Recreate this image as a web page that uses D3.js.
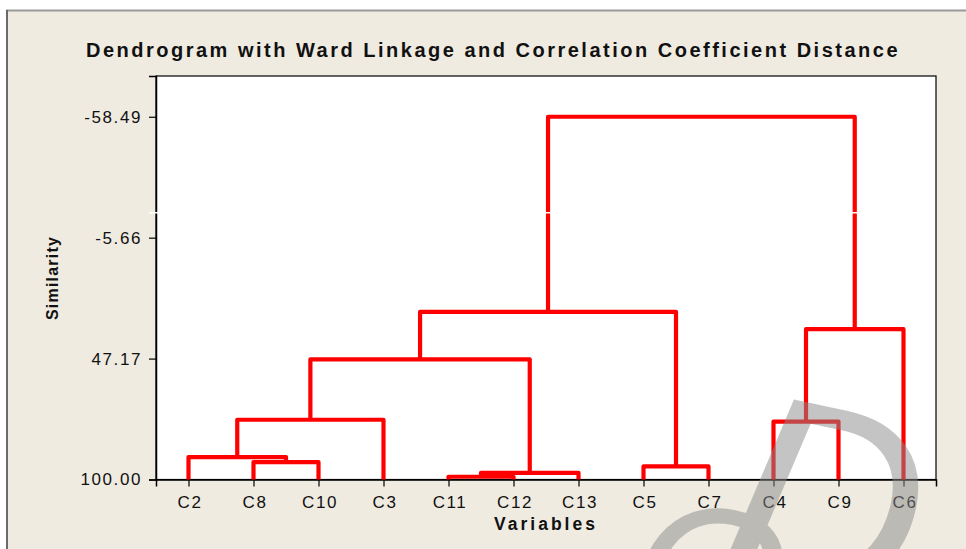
<!DOCTYPE html>
<html>
<head>
<meta charset="utf-8">
<script src="https://cdn.jsdelivr.net/npm/d3@7"></script>
<style>
  body { margin: 0; background: #fff; }
  text { font-family: "Liberation Sans", Arial, sans-serif; fill: #111; }
</style>
</head>
<body>
<svg id="chart" width="966" height="549"></svg>
<script>
// leaf order along the x axis
const leaves = ["C2", "C8", "C10", "C3", "C11", "C12", "C13", "C5", "C7", "C4", "C9", "C6"];
// merge steps: numbers >= 100 refer to earlier merges (100 + index)
const mergeLeft  = ["C8", "C2",  100+1, "C11", 100+3, 100+2, "C5", 100+5, "C4", 100+8, 100+7];
const mergeRight = ["C10", 100+0, "C3", "C12", "C13", 100+4, "C7", 100+6, "C9", "C6",  100+9];
const similarity = [92.4, 90.2, 73.9, 98.8, 97.1, 47.5, 94.3, 26.8, 74.7, 34.3, -58.49];
const yTicks = [-58.49, -5.66, 47.17, 100.00];

const svg = d3.select("#chart");
const W = 966, H = 549;
const plot = { left: 156, right: 936, top: 76, bottom: 479.5 };

// panel
svg.append("rect").attr("x", 7).attr("y", 10).attr("width", W).attr("height", H)
  .attr("fill", "#efebe1");
svg.append("line").attr("x1", 6).attr("x2", W).attr("y1", 10.5).attr("y2", 10.5)
  .attr("stroke", "#9a9a9a").attr("stroke-width", 2);
svg.append("line").attr("x1", 7).attr("x2", 7).attr("y1", 10).attr("y2", H)
  .attr("stroke", "#6a6a6a").attr("stroke-width", 2);

svg.append("rect").attr("x", plot.left).attr("y", plot.top)
  .attr("width", plot.right - plot.left).attr("height", plot.bottom - plot.top)
  .attr("fill", "#fff").attr("stroke", "#000").attr("stroke-width", 1.2);

const x = d3.scalePoint().domain(leaves).range([plot.left, plot.right]).padding(0.5);
const y = d3.scaleLinear().domain([100, -76.3]).range([plot.bottom, plot.top]);

// axes
const xAxis = svg.append("g").attr("transform", `translate(0,${plot.bottom})`)
  .call(d3.axisBottom(x).tickSize(7).tickPadding(6));
const yAxis = svg.append("g").attr("transform", `translate(${plot.left},0)`)
  .call(d3.axisLeft(y).tickValues(yTicks).tickFormat(d => d.toFixed(2)).tickSize(7).tickPadding(7));
[xAxis, yAxis].forEach(g => {
  g.select(".domain").attr("stroke", "#000").attr("stroke-width", 1.5);
  g.selectAll(".tick line").attr("stroke", "#000").attr("stroke-width", 1.2);
  g.selectAll(".tick text").attr("font-size", 17).attr("letter-spacing", 1.6)
    .attr("font-family", "Liberation Sans, Arial, sans-serif").attr("fill", "#111");
});
xAxis.selectAll(".tick text").attr("dy", "0.9em").attr("dx", 1);

// dendrogram links
const nodes = [];
function pos(ref) {
  if (typeof ref === "number") return nodes[ref - 100];
  return { x: x(ref), y: 100 };
}
const links = svg.append("g");
mergeLeft.forEach((l, i) => {
  const a = pos(l), b = pos(mergeRight[i]), s = similarity[i];
  nodes.push({ x: (a.x + b.x) / 2, y: s });
  links.append("path")
    .attr("d", `M${a.x},${y(a.y)}V${y(s)}H${b.x}V${y(b.y)}`)
    .attr("fill", "none").attr("stroke", "#ff0000").attr("stroke-width", 4.2)
    .attr("stroke-linejoin", "round");
});

// scan artifact line
svg.append("line").attr("x1", 149).attr("x2", plot.right - 1).attr("y1", 212.8).attr("y2", 212.8)
  .attr("stroke", "#fff").attr("stroke-width", 1.6);

// titles
svg.append("text").attr("x", 493).attr("y", 57).attr("text-anchor", "middle")
  .attr("font-size", 20).attr("font-weight", "bold").attr("letter-spacing", 2.5)
  .text("Dendrogram with Ward Linkage and Correlation Coefficient Distance");
svg.append("text").attr("x", 546).attr("y", 530).attr("text-anchor", "middle")
  .attr("font-size", 17.5).attr("font-weight", "bold").attr("letter-spacing", 3)
  .text("Variables");
svg.append("text").attr("transform", "translate(58,278) rotate(-90)").attr("text-anchor", "middle")
  .attr("font-size", 16).attr("font-weight", "bold").attr("letter-spacing", 1.2)
  .text("Similarity");

// watermark
const wm = svg.append("g").attr("opacity", 0.5).style("pointer-events", "none");
wm.append("text").attr("transform", "translate(712,572) rotate(12)")
  .attr("font-family", "Liberation Serif, serif").attr("font-style", "italic")
  .attr("font-size", 270).style("fill", "#8a8a8a").text("D");
wm.append("text").attr("transform", "translate(618,628) rotate(12)")
  .attr("font-family", "Liberation Serif, serif").attr("font-style", "italic")
  .attr("font-size", 200).style("fill", "#8a8a8a").text("C");
</script>
</body>
</html>
